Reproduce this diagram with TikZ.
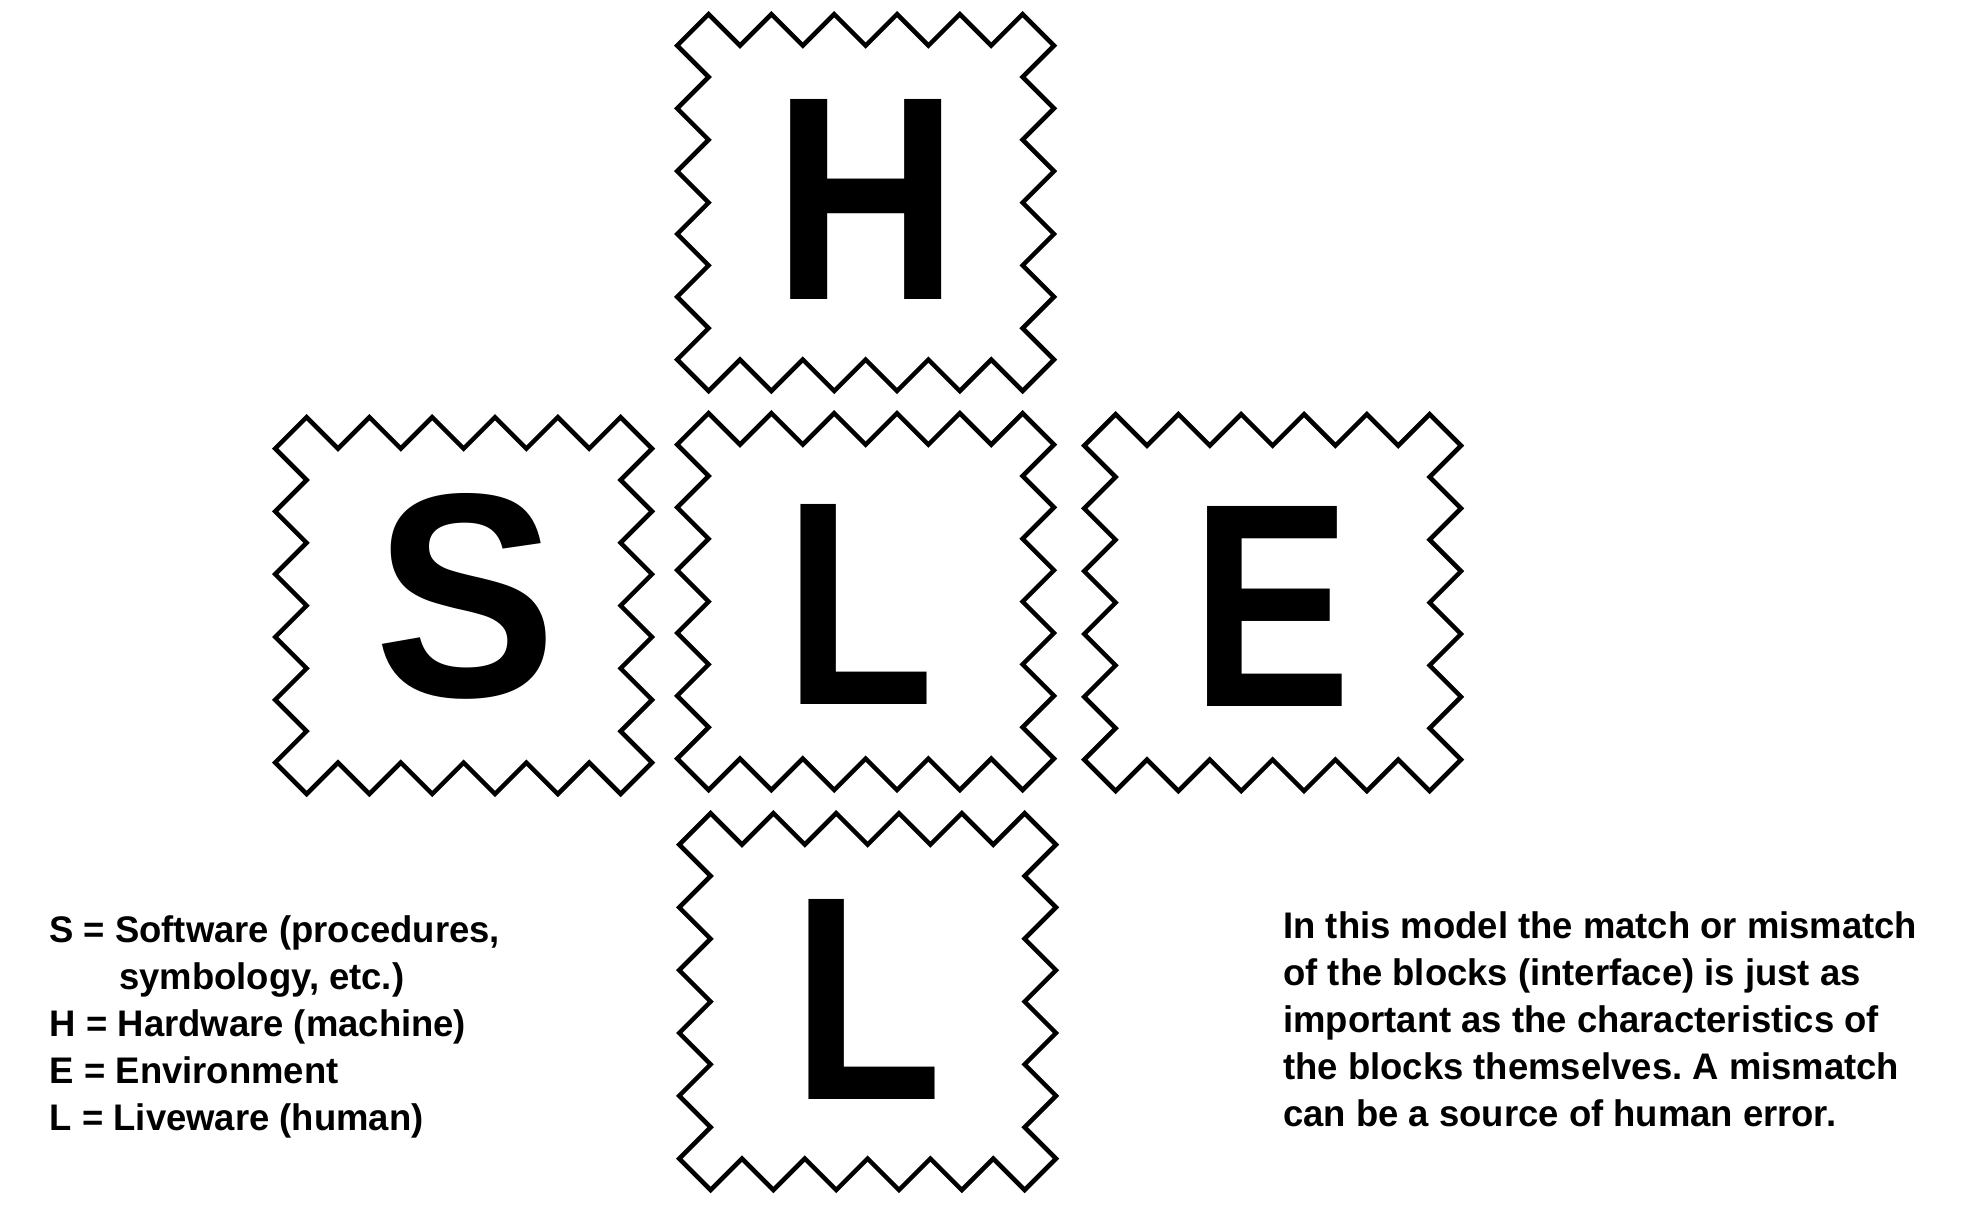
\documentclass[tikz,border=0pt]{standalone}
\usepackage{fontspec}
\setmainfont{Liberation Sans}
\newfontfamily\notefont{Liberation Sans}[FakeStretch=0.985]
\begin{document}
\frenchspacing
\begin{tikzpicture}[x=0.5pt,y=-0.5pt,
  stampline/.style={draw=black,line width=2.25pt,line join=miter,fill=white},
  bigletter/.style={inner sep=0pt,anchor=base,font=\fontsize{145.4}{146}\selectfont\bfseries},
  lefttext/.style={inner sep=0pt,anchor=base west,font=\notefont\fontsize{18.5}{20}\selectfont\bfseries},
  righttext/.style={inner sep=0pt,anchor=base west,font=\notefont\fontsize{18.5}{20}\selectfont\bfseries},
  pics/stamp/.style={code={
    \path[stampline] (0,1)--(1,0)--(2,1)--(3,0)--(4,1)--(5,0)--(6,1)--(7,0)--(8,1)--(9,0)--(10,1)--(11,0)--(12,1)
      --(11,2)--(12,3)--(11,4)--(12,5)--(11,6)--(12,7)--(11,8)--(12,9)--(11,10)--(12,11)
      --(11,12)--(10,11)--(9,12)--(8,11)--(7,12)--(6,11)--(5,12)--(4,11)--(3,12)--(2,11)--(1,12)--(0,11)
      --(1,10)--(0,9)--(1,8)--(0,7)--(1,6)--(0,5)--(1,4)--(0,3)--(1,2)--cycle;
  }}
]
\fill[white] (0,0) rectangle (1962,1214);
\useasboundingbox (0,0) rectangle (1962,1214);

% blocks
\pic (hbox) [scale=31.4] at (677.2,14.2) {stamp};
\pic (sbox) [scale=31.4] at (275.2,417.2) {stamp};
\pic (lmbox) [scale=31.4] at (677.2,413.2) {stamp};
\pic (ebox) [scale=31.4] at (1084.2,414.2) {stamp};
\pic (lbbox) [scale=31.4] at (679.2,813.2) {stamp};

% letters
\node[bigletter] (hl) at (866,299) {\scalebox{0.883}[1]{H}};
\node[bigletter] (sl) at (466,696.5) {\scalebox{0.94}[1]{S}};
\node[bigletter] (lml) at (860,704) {\scalebox{0.845}[1]{L}};
\node[bigletter] (el) at (1271,706) {\scalebox{0.825}[1]{E}};
\node[bigletter] (lbl) at (867.5,1099) {\scalebox{0.845}[1]{L}};

% legend
\node[lefttext] (t1) at (49,942) {S = Software (procedures,};
\node[lefttext] (t2) at (119,989) {symbology, etc.)};
\node[lefttext] (t3) at (49.5,1036) {H = Hardware (machine)};
\node[lefttext] (t4) at (49.5,1083) {E = Environment};
\node[lefttext] (t5) at (49.5,1130) {L = Liveware (human)};

% note
\node[righttext] (r1) at (1283,938) {In this model the match or mismatch};
\node[righttext] (r2) at (1283,985) {of the blocks (interface) is just as};
\node[righttext] (r3) at (1283,1032) {important as the characteristics of};
\node[righttext] (r4) at (1283,1079) {the blocks themselves. A mismatch};
\node[righttext] (r5) at (1283,1126) {can be a source of human error.};
\end{tikzpicture}
\end{document}
